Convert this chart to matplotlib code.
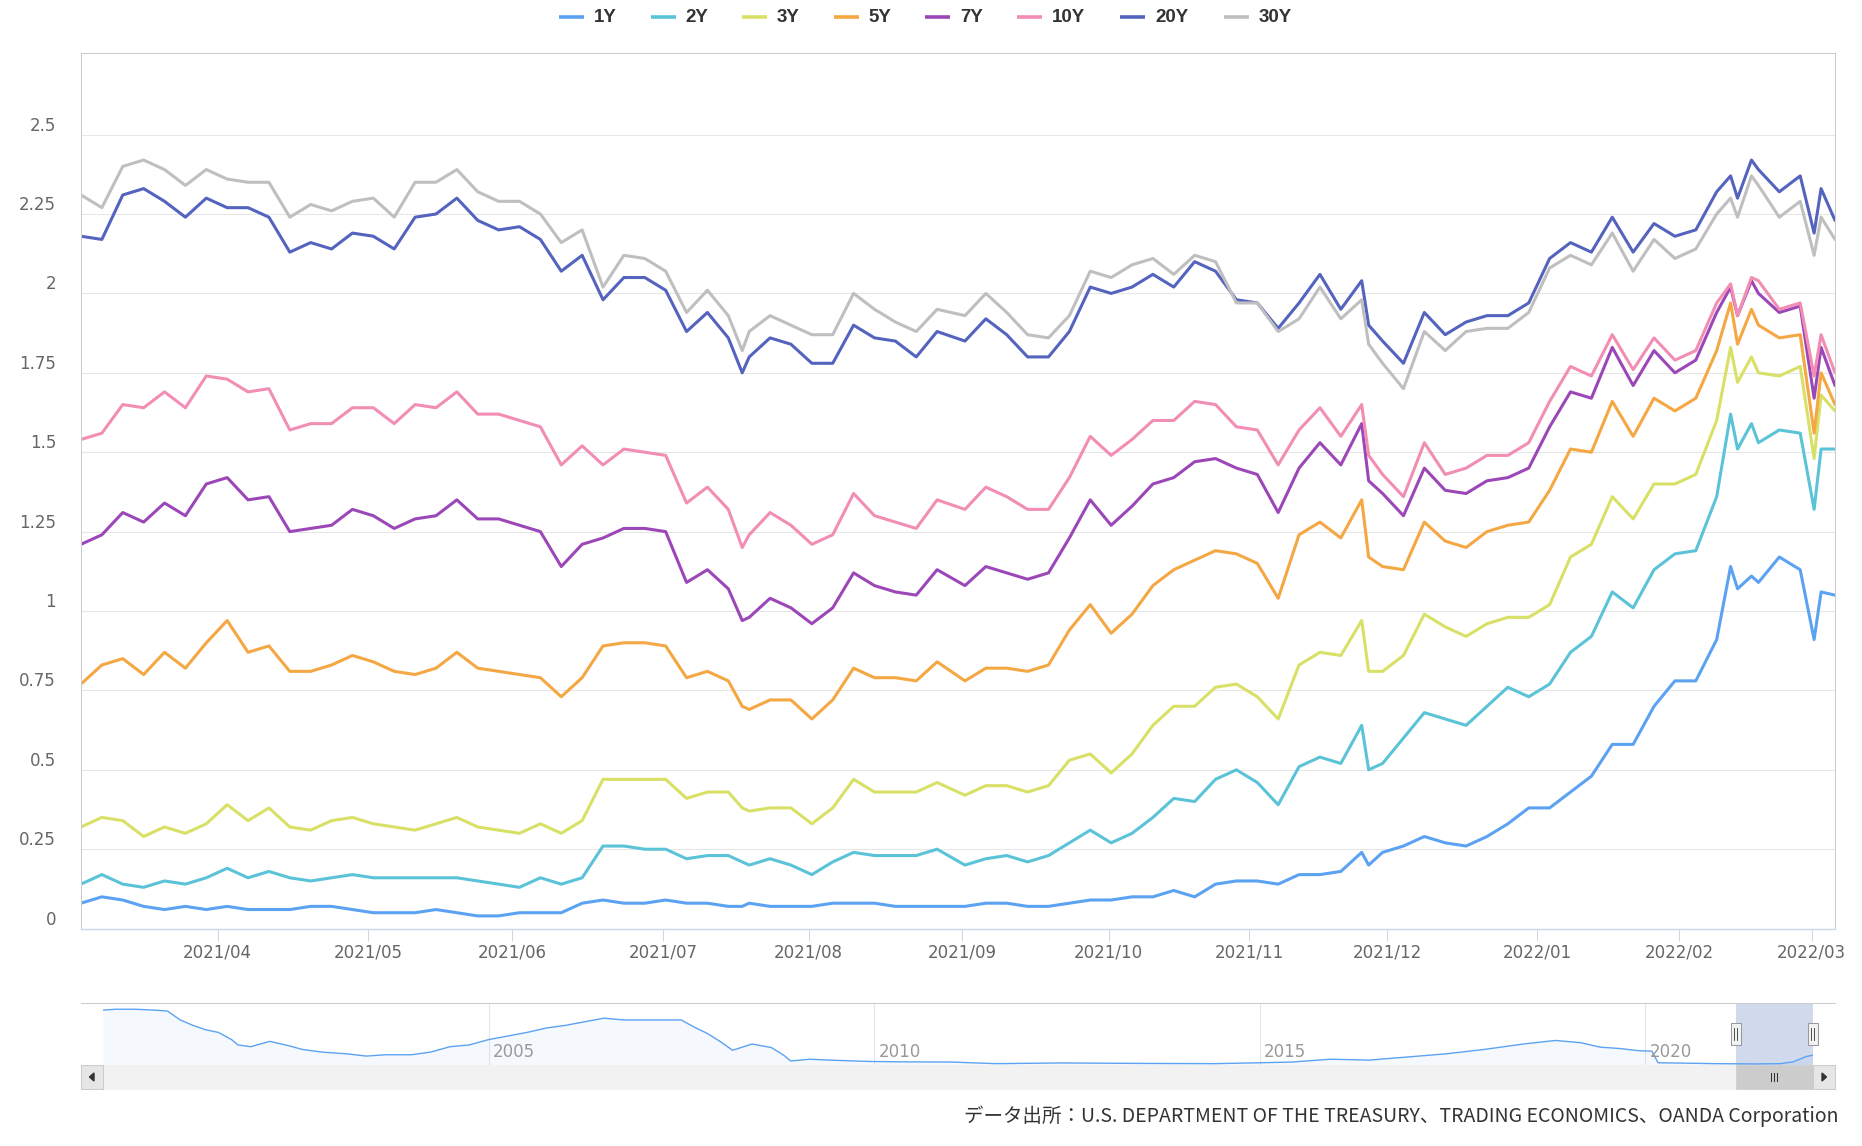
import numpy as np
import pandas as pd
import matplotlib
matplotlib.use("Agg")
import matplotlib.pyplot as plt
import matplotlib.dates as mdates
import matplotlib.transforms as mtrans
from matplotlib.patches import Rectangle, Polygon
from matplotlib.lines import Line2D

plt.rcParams['font.family'] = ['DejaVu Sans', 'Noto Sans CJK JP']

# 米国債利回り (%)  2021/03/04 - 2022/03/04
dates = [
    '2021-03-04', '2021-03-09', '2021-03-12', '2021-03-17', '2021-03-22', '2021-03-25', '2021-03-30',
    '2021-04-02', '2021-04-07', '2021-04-12', '2021-04-15', '2021-04-20', '2021-04-23', '2021-04-28',
    '2021-05-03', '2021-05-06', '2021-05-11', '2021-05-14', '2021-05-19', '2021-05-24', '2021-05-27',
    '2021-06-02', '2021-06-07', '2021-06-10', '2021-06-15', '2021-06-18', '2021-06-23', '2021-06-28',
    '2021-07-01', '2021-07-07', '2021-07-12', '2021-07-15', '2021-07-19', '2021-07-20', '2021-07-23',
    '2021-07-28', '2021-08-02', '2021-08-05', '2021-08-10', '2021-08-13', '2021-08-18', '2021-08-23',
    '2021-08-26',
    '2021-09-01', '2021-09-07', '2021-09-10', '2021-09-15', '2021-09-20', '2021-09-23', '2021-09-28',
    '2021-10-01', '2021-10-06', '2021-10-12', '2021-10-15', '2021-10-20', '2021-10-25', '2021-10-28',
    '2021-11-02', '2021-11-05', '2021-11-10', '2021-11-16', '2021-11-19', '2021-11-24', '2021-11-26',
    '2021-11-30',
    '2021-12-03', '2021-12-08', '2021-12-13', '2021-12-16', '2021-12-21', '2021-12-27', '2021-12-30',
    '2022-01-04', '2022-01-07', '2022-01-12', '2022-01-18', '2022-01-21', '2022-01-26', '2022-01-31',
    '2022-02-03', '2022-02-08', '2022-02-10', '2022-02-11', '2022-02-15', '2022-02-16', '2022-02-22',
    '2022-02-25', '2022-03-01', '2022-03-02', '2022-03-04',
]

y1 = [0.08, 0.10, 0.09, 0.07, 0.06, 0.07, 0.06, 0.07, 0.06, 0.06, 0.06, 0.07, 0.07, 0.06, 0.05, 0.05,
      0.05, 0.06, 0.05, 0.04, 0.04,
      0.05, 0.05, 0.05, 0.08, 0.09, 0.08, 0.08, 0.09, 0.08, 0.08, 0.07, 0.07, 0.08, 0.07, 0.07, 0.07,
      0.08, 0.08, 0.08, 0.07, 0.07, 0.07,
      0.07, 0.08, 0.08, 0.07, 0.07, 0.08, 0.09, 0.09, 0.10, 0.10, 0.12, 0.10, 0.14, 0.15, 0.15, 0.14,
      0.17, 0.17, 0.18, 0.24, 0.20, 0.24,
      0.26, 0.29, 0.27, 0.26, 0.29, 0.33, 0.38, 0.38, 0.43, 0.48, 0.58, 0.58, 0.70, 0.78, 0.78, 0.91,
      1.14, 1.07, 1.11, 1.09, 1.17, 1.13, 0.91, 1.06, 1.05]
y2 = [0.14, 0.17, 0.14, 0.13, 0.15, 0.14, 0.16, 0.19, 0.16, 0.18, 0.16, 0.15, 0.16, 0.17, 0.16, 0.16,
      0.16, 0.16, 0.16, 0.15, 0.14,
      0.13, 0.16, 0.14, 0.16, 0.26, 0.26, 0.25, 0.25, 0.22, 0.23, 0.23, 0.21, 0.20, 0.22, 0.20, 0.17,
      0.21, 0.24, 0.23, 0.23, 0.23, 0.25,
      0.20, 0.22, 0.23, 0.21, 0.23, 0.27, 0.31, 0.27, 0.30, 0.35, 0.41, 0.40, 0.47, 0.50, 0.46, 0.39,
      0.51, 0.54, 0.52, 0.64, 0.50, 0.52,
      0.60, 0.68, 0.66, 0.64, 0.70, 0.76, 0.73, 0.77, 0.87, 0.92, 1.06, 1.01, 1.13, 1.18, 1.19, 1.36,
      1.62, 1.51, 1.59, 1.53, 1.57, 1.56, 1.32, 1.51, 1.51]
y3 = [0.32, 0.35, 0.34, 0.29, 0.32, 0.30, 0.33, 0.39, 0.34, 0.38, 0.32, 0.31, 0.34, 0.35, 0.33, 0.32,
      0.31, 0.33, 0.35, 0.32, 0.31,
      0.30, 0.33, 0.30, 0.34, 0.47, 0.47, 0.47, 0.47, 0.41, 0.43, 0.43, 0.38, 0.37, 0.38, 0.38, 0.33,
      0.38, 0.47, 0.43, 0.43, 0.43, 0.46,
      0.42, 0.45, 0.45, 0.43, 0.45, 0.53, 0.55, 0.49, 0.55, 0.64, 0.70, 0.70, 0.76, 0.77, 0.73, 0.66,
      0.83, 0.87, 0.86, 0.97, 0.81, 0.81,
      0.86, 0.99, 0.95, 0.92, 0.96, 0.98, 0.98, 1.02, 1.17, 1.21, 1.36, 1.29, 1.40, 1.40, 1.43, 1.60,
      1.83, 1.72, 1.80, 1.75, 1.74, 1.77, 1.48, 1.68, 1.63]
y5 = [0.77, 0.83, 0.85, 0.80, 0.87, 0.82, 0.90, 0.97, 0.87, 0.89, 0.81, 0.81, 0.83, 0.86, 0.84, 0.81,
      0.80, 0.82, 0.87, 0.82, 0.81,
      0.80, 0.79, 0.73, 0.79, 0.89, 0.90, 0.90, 0.89, 0.79, 0.81, 0.78, 0.70, 0.69, 0.72, 0.72, 0.66,
      0.72, 0.82, 0.79, 0.79, 0.78, 0.84,
      0.78, 0.82, 0.82, 0.81, 0.83, 0.94, 1.02, 0.93, 0.99, 1.08, 1.13, 1.16, 1.19, 1.18, 1.15, 1.04,
      1.24, 1.28, 1.23, 1.35, 1.17, 1.14,
      1.13, 1.28, 1.22, 1.20, 1.25, 1.27, 1.28, 1.38, 1.51, 1.50, 1.66, 1.55, 1.67, 1.63, 1.67, 1.82,
      1.97, 1.84, 1.95, 1.90, 1.86, 1.87, 1.56, 1.75, 1.65]
y7 = [1.21, 1.24, 1.31, 1.28, 1.34, 1.30, 1.40, 1.42, 1.35, 1.36, 1.25, 1.26, 1.27, 1.32, 1.30, 1.26,
      1.29, 1.30, 1.35, 1.29, 1.29,
      1.27, 1.25, 1.14, 1.21, 1.23, 1.26, 1.26, 1.25, 1.09, 1.13, 1.07, 0.97, 0.98, 1.04, 1.01, 0.96,
      1.01, 1.12, 1.08, 1.06, 1.05, 1.13,
      1.08, 1.14, 1.12, 1.10, 1.12, 1.23, 1.35, 1.27, 1.33, 1.40, 1.42, 1.47, 1.48, 1.45, 1.43, 1.31,
      1.45, 1.53, 1.46, 1.59, 1.41, 1.37,
      1.30, 1.45, 1.38, 1.37, 1.41, 1.42, 1.45, 1.58, 1.69, 1.67, 1.83, 1.71, 1.82, 1.75, 1.79, 1.94,
      2.02, 1.93, 2.04, 2.00, 1.94, 1.96, 1.67, 1.83, 1.71]
y10 = [1.54, 1.56, 1.65, 1.64, 1.69, 1.64, 1.74, 1.73, 1.69, 1.70, 1.57, 1.59, 1.59, 1.64, 1.64, 1.59,
       1.65, 1.64, 1.69, 1.62, 1.62,
       1.60, 1.58, 1.46, 1.52, 1.46, 1.51, 1.50, 1.49, 1.34, 1.39, 1.32, 1.20, 1.24, 1.31, 1.27, 1.21,
       1.24, 1.37, 1.30, 1.28, 1.26, 1.35,
       1.32, 1.39, 1.36, 1.32, 1.32, 1.42, 1.55, 1.49, 1.54, 1.60, 1.60, 1.66, 1.65, 1.58, 1.57, 1.46,
       1.57, 1.64, 1.55, 1.65, 1.49, 1.43,
       1.36, 1.53, 1.43, 1.45, 1.49, 1.49, 1.53, 1.66, 1.77, 1.74, 1.87, 1.76, 1.86, 1.79, 1.82, 1.97,
       2.03, 1.93, 2.05, 2.04, 1.95, 1.97, 1.74, 1.87, 1.75]
y20 = [2.18, 2.17, 2.31, 2.33, 2.29, 2.24, 2.30, 2.27, 2.27, 2.24, 2.13, 2.16, 2.14, 2.19, 2.18, 2.14,
       2.24, 2.25, 2.30, 2.23, 2.20,
       2.21, 2.17, 2.07, 2.12, 1.98, 2.05, 2.05, 2.01, 1.88, 1.94, 1.86, 1.75, 1.80, 1.86, 1.84, 1.78,
       1.78, 1.90, 1.86, 1.85, 1.80, 1.88,
       1.85, 1.92, 1.87, 1.80, 1.80, 1.88, 2.02, 2.00, 2.02, 2.06, 2.02, 2.10, 2.07, 1.98, 1.97, 1.89,
       1.97, 2.06, 1.95, 2.04, 1.90, 1.85,
       1.78, 1.94, 1.87, 1.91, 1.93, 1.93, 1.97, 2.11, 2.16, 2.13, 2.24, 2.13, 2.22, 2.18, 2.20, 2.32,
       2.37, 2.30, 2.42, 2.39, 2.32, 2.37, 2.19, 2.33, 2.23]
y30 = [2.31, 2.27, 2.40, 2.42, 2.39, 2.34, 2.39, 2.36, 2.35, 2.35, 2.24, 2.28, 2.26, 2.29, 2.30, 2.24,
       2.35, 2.35, 2.39, 2.32, 2.29,
       2.29, 2.25, 2.16, 2.20, 2.02, 2.12, 2.11, 2.07, 1.94, 2.01, 1.93, 1.82, 1.88, 1.93, 1.90, 1.87,
       1.87, 2.00, 1.95, 1.91, 1.88, 1.95,
       1.93, 2.00, 1.94, 1.87, 1.86, 1.93, 2.07, 2.05, 2.09, 2.11, 2.06, 2.12, 2.10, 1.97, 1.97, 1.88,
       1.92, 2.02, 1.92, 1.98, 1.84, 1.78,
       1.70, 1.88, 1.82, 1.88, 1.89, 1.89, 1.94, 2.08, 2.12, 2.09, 2.19, 2.07, 2.17, 2.11, 2.14, 2.25,
       2.30, 2.24, 2.37, 2.34, 2.24, 2.29, 2.12, 2.24, 2.17]

names = ['1Y', '2Y', '3Y', '5Y', '7Y', '10Y', '20Y', '30Y']
colors = ['#5ca2f2', '#5bc3d8', '#d8e066', '#f4a742', '#9b47b7', '#f28db4', '#5463be', '#bfbfbf']

# 市場休場日 (データなし)
holidays = ['2021-05-31', '2021-07-05', '2021-09-06', '2021-10-11', '2021-11-11',
            '2021-11-25', '2021-12-24', '2022-01-17', '2022-02-21']

# ナビゲーター (1Y, 2000-)
nav_dates = ['2000-01', '2000-03', '2000-06', '2000-09', '2000-11', '2001-01', '2001-03', '2001-05',
             '2001-07', '2001-09', '2001-10', '2001-12', '2002-03', '2002-06', '2002-08', '2002-11',
             '2003-03', '2003-06', '2003-09', '2004-01', '2004-04', '2004-07', '2004-10', '2005-01',
             '2005-04', '2005-07', '2005-10', '2006-01', '2006-04', '2006-07', '2006-10', '2007-01',
             '2007-04', '2007-07', '2007-09', '2007-11', '2008-01', '2008-03', '2008-06', '2008-09',
             '2008-11', '2008-12', '2009-03', '2009-06', '2009-12', '2010-06', '2011-01', '2011-08',
             '2012-06', '2013-06', '2014-06', '2015-01', '2015-06', '2015-12', '2016-06', '2016-12',
             '2017-06', '2017-12', '2018-06', '2018-11', '2019-03', '2019-06', '2019-09', '2019-12',
             '2020-02', '2020-03', '2020-06', '2020-12', '2021-06', '2021-10', '2021-12', '2022-01',
             '2022-02', '2022-03-04']
nav_1y = [6.1, 6.2, 6.2, 6.1, 6.0, 5.0, 4.4, 3.9, 3.6, 2.8, 2.2, 2.0, 2.6, 2.1, 1.7, 1.4,
          1.2, 0.95, 1.1, 1.1, 1.4, 2.0, 2.2, 2.8, 3.2, 3.6, 4.1, 4.4, 4.8, 5.2, 5.0, 5.0,
          5.0, 5.0, 4.2, 3.5, 2.6, 1.6, 2.3, 1.9, 1.0, 0.4, 0.6, 0.5, 0.35, 0.3, 0.28, 0.1,
          0.18, 0.13, 0.1, 0.2, 0.28, 0.6, 0.5, 0.85, 1.2, 1.7, 2.3, 2.7, 2.45, 1.95, 1.8, 1.55,
          1.5, 0.2, 0.17, 0.1, 0.07, 0.1, 0.3, 0.6, 0.9, 1.05]

source = 'データ出所：U.S. DEPARTMENT OF THE TREASURY、TRADING ECONOMICS、OANDA Corporation'

W, H = 1862, 1146
fig = plt.figure(figsize=(W / 100, H / 100), dpi=100)


def box(x0, y0, x1, y1):
    return [x0 / W, 1 - y1 / H, (x1 - x0) / W, (y1 - y0) / H]


def fig_rect(x0, y0, x1, y1, **kw):
    fig.add_artist(Rectangle((x0 / W, 1 - y1 / H), (x1 - x0) / W, (y1 - y0) / H,
                             transform=fig.transFigure, **kw))


def fig_line(xs, ys, **kw):
    fig.add_artist(Line2D([x / W for x in xs], [1 - y / H for y in ys],
                          transform=fig.transFigure, **kw))


# ---- main chart (ordinal x axis: one slot per trading day)
ax = fig.add_axes(box(81, 53, 1835, 928.6))
cal = pd.bdate_range('2021-03-04', '2022-03-04', freq='C', holidays=holidays)
xpos = cal.get_indexer(pd.to_datetime(dates))

for vals, c in zip([y1, y2, y3, y5, y7, y10, y20, y30], colors):
    ax.plot(xpos, vals, color=c, lw=2.2, solid_joinstyle='round', solid_capstyle='round')

ax.set_xlim(0, len(cal) - 1)
ax.set_ylim(0, 2.757)

# month ticks at 00:00 JST of each 1st
months = pd.date_range('2021-04-01', '2022-03-01', freq='MS')
tick_t = (months - pd.Timedelta(hours=9)).asi8
tick_pos = np.interp(tick_t, cal.asi8, np.arange(len(cal)))
ax.set_xticks(tick_pos, labels=months.strftime('%Y/%m'))
ax.tick_params(axis='x', length=8.6, width=0.75, color='#ccd6eb', pad=2,
               labelsize=12, labelcolor='#666666')

yticks = np.arange(0, 2.51, 0.25)
ax.set_yticks(yticks, labels=[])
ax.tick_params(axis='y', length=0)
ax.yaxis.grid(True, color='#e6e6e6', lw=0.75)
ax.set_axisbelow(True)
ytr = mtrans.blended_transform_factory(ax.transAxes, ax.transData) + \
    mtrans.ScaledTranslation(-25 / 100, 9 / 100, fig.dpi_scale_trans)
for v in yticks:
    ax.text(0, v, f'{v:g}', transform=ytr, ha='right', va='center', fontsize=12, color='#666666')

for s in ['top', 'left', 'right']:
    ax.spines[s].set_color('#cccccc')
    ax.spines[s].set_linewidth(0.75)
ax.spines['bottom'].set_color('#ccd6eb')
ax.spines['bottom'].set_linewidth(1)

# ---- legend
lx = 559
for name, c in zip(names, colors):
    fig_line([lx, lx + 25], [17, 17], color=c, lw=2.6, solid_capstyle='butt')
    fig.text((lx + 35) / W, 1 - 17 / H, name, fontsize=13.5, fontweight='bold', color='#333333',
             ha='left', va='center', family=['Liberation Sans Narrow', 'Liberation Sans', 'DejaVu Sans'])
    lx += 91.5 if len(name) == 2 else 103.5

# ---- navigator
nav = fig.add_axes(box(103, 1003, 1813, 1065))
nd = pd.to_datetime(nav_dates, format='mixed')
nav.fill_between(nd, nav_1y, -1, color=colors[0], alpha=0.06, lw=0)
nav.plot(nd, nav_1y, color=colors[0], lw=1.0)
nav.set_xlim(pd.Timestamp('2000-01-01'), pd.Timestamp('2022-03-05'))
nav.set_ylim(-0.05, 6.9)
nav.axis('off')
for yr in [2005, 2010, 2015, 2020]:
    t = pd.Timestamp(f'{yr}-01-01')
    nav.axvline(t, color='#e6e6e6', lw=0.75, zorder=0)
    nav.annotate(str(yr), xy=(t, 0), xycoords=('data', 'axes fraction'), xytext=(3, 3),
                 textcoords='offset points', fontsize=12, color='#999999', va='bottom', ha='left')
m0, m1 = pd.Timestamp(dates[0]), pd.Timestamp(dates[-1])
nav.axvspan(m0, m1, color='#6685c2', alpha=0.3, lw=0)

fig.canvas.draw()
px0 = nav.transData.transform((mdates.date2num(m0), 0))[0]
px1 = nav.transData.transform((mdates.date2num(m1), 0))[0]

fig_line([81, 1835], [1003, 1003], color='#cccccc', lw=0.75)

# scrollbar
fig_rect(81, 1065, 1835, 1089, facecolor='#f2f2f2', edgecolor='#f2f2f2', lw=0.5)
fig_rect(px0, 1065, px1, 1089, facecolor='#cccccc', edgecolor='#cccccc', lw=0.5)
cx = (px0 + px1) / 2
for dx in (-3, 0, 3):
    fig_line([cx + dx, cx + dx], [1073, 1081], color='#333333', lw=0.75)
for bx0, bx1, d in [(81, 103, -1), (1813, 1835, 1)]:
    fig_rect(bx0, 1065, bx1, 1089, facecolor='#e6e6e6', edgecolor='#cccccc', lw=0.75)
    mx = (bx0 + bx1) / 2
    pts = [(mx + 2.5 * d, 1077), (mx - 2 * d, 1073), (mx - 2 * d, 1081)]
    fig.add_artist(Polygon([(x / W, 1 - y / H) for x, y in pts], closed=True,
                           transform=fig.transFigure, color='#333333'))

# handles
for hx in (px0, px1):
    fig_rect(hx - 5, 1023, hx + 5, 1045, facecolor='#f2f2f2', edgecolor='#999999', lw=0.75)
    for dx in (-1.5, 1.5):
        fig_line([hx + dx, hx + dx], [1028, 1040], color='#333333', lw=0.6)

# ---- source
fig.text(1838 / W, 1 - 1116 / H, source, ha='right', va='center', fontsize=14, color='#333333',
         family=['Noto Sans CJK JP', 'DejaVu Sans'])

fig.savefig('out.png', dpi=100)
